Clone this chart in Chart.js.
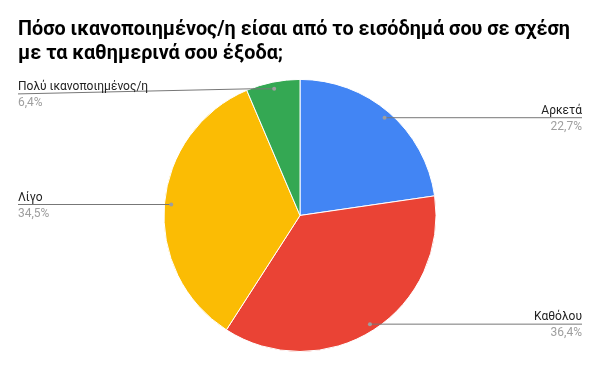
<!DOCTYPE html>
<html>
<head>
<meta charset="utf-8">
<script src="https://cdn.jsdelivr.net/npm/chart.js@4/dist/chart.umd.min.js"></script>
<style>
  html, body { margin: 0; padding: 0; background: #fff; }
  #wrap { width: 600px; height: 371px; }
</style>
</head>
<body>
<div id="wrap"><canvas id="grafico"></canvas></div>
<script>
// categorias e valores (%)
const categorias = ["Αρκετά", "Καθόλου", "Λίγο", "Πολύ ικανοποιημένος/η"];
const percentuais = [22.7, 36.4, 34.5, 6.4];
const cores = ["#4285F4", "#EA4335", "#FBBC04", "#34A853"];
const titulo = [
    "Πόσο ικανοποιημένος/η είσαι από το εισόδημά σου σε σχέση",
    "με τα καθημερινά σου έξοδα;"
];

// rótulos com linha guia (estilo Google Sheets)
const rotulosGuia = {
    id: "rotulosGuia",
    afterDatasetsDraw(chart) {
        const ctx = chart.ctx;
        const area = chart.chartArea;
        const meta = chart.getDatasetMeta(0);
        meta.data.forEach((arc, i) => {
            const p = arc.getProps(["x", "y", "startAngle", "endAngle", "outerRadius"], true);
            const meio = (p.startAngle + p.endAngle) / 2;
            const r = p.outerRadius * 0.95;
            const px = p.x + Math.cos(meio) * r;
            const py = p.y + Math.sin(meio) * r;
            const direita = Math.cos(meio) > 0;
            const ly = Math.max(py, area.top + 15);
            const lx = direita ? area.right : area.left;

            ctx.save();
            ctx.strokeStyle = "#777";
            ctx.lineWidth = 1;
            ctx.beginPath();
            ctx.moveTo(px, py);
            if (ly !== py) {
                // segue na horizontal até a borda da pizza, depois desce
                const dy = py - p.y;
                const dx = Math.sqrt(Math.max(0, p.outerRadius * p.outerRadius - dy * dy));
                ctx.lineTo(direita ? p.x + dx : p.x - dx, py);
            }
            ctx.lineTo(lx, ly);
            ctx.stroke();

            ctx.fillStyle = "#9e9e9e";
            ctx.beginPath();
            ctx.arc(px, py, 2, 0, Math.PI * 2);
            ctx.fill();

            ctx.textAlign = direita ? "right" : "left";
            ctx.textBaseline = "alphabetic";
            ctx.font = "12px Roboto";
            ctx.fillStyle = "#222";
            ctx.fillText(categorias[i], lx, ly - 4);
            ctx.fillStyle = "#9e9e9e";
            ctx.fillText(percentuais[i].toFixed(1).replace(".", ",") + "%", lx, ly + 12);
            ctx.restore();
        });
    }
};

new Chart(document.getElementById("grafico"), {
    type: "pie",
    data: {
        labels: categorias,
        datasets: [{
            data: percentuais,
            backgroundColor: cores,
            borderColor: "#ffffff",
            borderWidth: 1
        }]
    },
    options: {
        responsive: true,
        maintainAspectRatio: false,
        animation: false,
        layout: { padding: { top: 0, bottom: 19, left: 18, right: 18 } },
        plugins: {
            legend: { display: false },
            tooltip: { enabled: false },
            title: {
                display: true,
                text: titulo,
                align: "start",
                color: "#000",
                font: { family: "Roboto", size: 19.8, weight: "bold", lineHeight: 1.21 },
                padding: { top: 18, bottom: 13 }
            }
        }
    },
    plugins: [rotulosGuia]
});
</script>
</body>
</html>
